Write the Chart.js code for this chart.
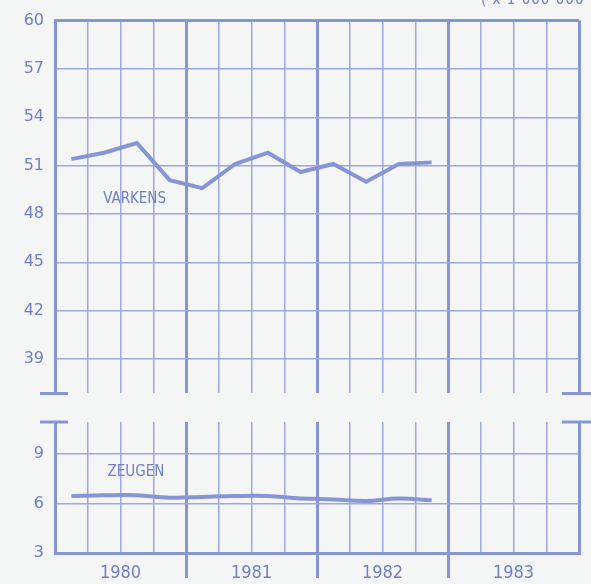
<!DOCTYPE html>
<html>
<head>
<meta charset="utf-8">
<script src="https://cdn.jsdelivr.net/npm/chart.js@4/dist/chart.umd.min.js"></script>
<style>
  body { margin: 0; background: #f4f5f5; }
  #wrap { position: relative; width: 591px; height: 584px; overflow: hidden; }
  #top { position: absolute; left: 0; top: 0; }
  #bottom { position: absolute; left: 0; top: 400px; }
  #unit { position: absolute; left: 481px; top: -10px; white-space: nowrap; font: 15px "DejaVu Sans Condensed"; color: #7282c6; letter-spacing: 1px; }
</style>
</head>
<body>
<div id="wrap">
  <canvas id="top" width="591" height="414"></canvas>
  <canvas id="bottom" width="591" height="184"></canvas>
  <div id="unit">( x 1 000 000 )</div>
</div>
<script>
// quarters 1980 Q1 .. 1982 Q4
const YEARS = ['1980', '1981', '1982', '1983'];
const VARKENS = [51.4, 51.8, 52.4, 50.1, 49.6, 51.1, 51.8, 50.6, 51.1, 50.0, 51.1, 51.2];
const ZEUGEN = [6.45, 6.5, 6.5, 6.35, 6.4, 6.45, 6.45, 6.3, 6.25, 6.15, 6.3, 6.2];
const TOP_TICKS = [39, 42, 45, 48, 51, 54, 57, 60];
const BOTTOM_TICKS = [3, 6, 9];

const LINE = '#8795d6';
const GRID = '#9ca8de';
const TEXT = '#6f7fc4';

Chart.defaults.animation = false;
Chart.defaults.responsive = false;
Chart.defaults.font.family = 'DejaVu Sans';

function points(values) {
    return values.map((v, i) => ({ x: i + 0.5, y: v }));
}

function gridWidth(ctx) {
    const v = ctx.tick.value;
    return v % 4 === 0 ? 3 : 1.5;
}

// little break marks and series names
const extras = {
    id: 'extras',
    afterDraw(chart, args, opts) {
        const c = chart.ctx, a = chart.chartArea;
        const y = opts.capAtBottom ? a.bottom : a.top;
        c.save();
        c.strokeStyle = LINE;
        c.lineWidth = 3;
        c.beginPath();
        c.moveTo(a.left - 15, y); c.lineTo(a.left + 13, y);
        c.moveTo(a.right - 17, y); c.lineTo(a.right + 13, y);
        c.stroke();
        const xs = chart.scales.x, ys = chart.scales.y;
        c.fillStyle = TEXT;
        c.font = '15px "DejaVu Sans Condensed"';
        c.textAlign = 'center';
        c.textBaseline = 'middle';
        c.fillText(opts.label, xs.getPixelForValue(opts.at[0]), ys.getPixelForValue(opts.at[1]));
        c.restore();
    }
};

function xScale(bottom) {
    return {
        type: 'linear', min: 0, max: 16,
        afterBuildTicks: s => { s.ticks = Array.from({ length: 17 }, (_, i) => ({ value: i })); },
        afterFit: s => { s.height = bottom ? 31 : 7; },
        border: { display: bottom, color: LINE, width: 3 },
        grid: {
            color: ctx => (ctx.tick.value % 4 === 0 ? LINE : GRID),
            lineWidth: gridWidth,
            drawTicks: bottom,
            tickLength: 25,
            tickWidth: 3,
            tickColor: ctx => ([4, 8, 12].includes(ctx.tick.value) ? LINE : 'rgba(0,0,0,0)')
        },
        ticks: {
            display: bottom,
            autoSkip: false, maxRotation: 0,
            padding: -15,
            color: TEXT,
            font: { size: 18, family: 'DejaVu Sans Condensed' },
            callback: v => (v % 4 === 2 ? YEARS[(v - 2) / 4] : '')
        }
    };
}

function yScale(min, max, ticks) {
    return {
        min: min, max: max,
        afterBuildTicks: s => { s.ticks = ticks.map(v => ({ value: v })); },
        afterFit: s => { s.width = 55; },
        border: { color: LINE, width: 3 },
        grid: {
            color: ctx => (ctx.tick.value === 60 ? LINE : GRID),
            lineWidth: ctx => (ctx.tick.value === 60 ? 3 : 1.5),
            drawTicks: false
        },
        ticks: { color: TEXT, padding: 11, font: { size: 16 } }
    };
}

new Chart(document.getElementById('top'), {
    type: 'line',
    data: { datasets: [{ label: 'VARKENS', data: points(VARKENS), borderColor: LINE, borderWidth: 4, pointRadius: 0, tension: 0 }] },
    options: {
        layout: { padding: { top: 15, right: 12, left: 0, bottom: 0 } },
        plugins: { legend: { display: false }, tooltip: { enabled: false },
            extras: { capAtBottom: true, label: 'VARKENS', at: [2.43, 48.9] } },
        scales: { x: xScale(false), y: yScale(36.86, 60, TOP_TICKS) }
    },
    plugins: [extras]
});

new Chart(document.getElementById('bottom'), {
    type: 'line',
    data: { datasets: [{ label: 'ZEUGEN', data: points(ZEUGEN), borderColor: LINE, borderWidth: 4, pointRadius: 0, tension: 0.4 }] },
    options: {
        layout: { padding: { top: 22, right: 12, left: 0, bottom: 0 } },
        plugins: { legend: { display: false }, tooltip: { enabled: false },
            extras: { capAtBottom: false, label: 'ZEUGEN', at: [2.47, 7.9] } },
        scales: { x: xScale(true), y: yScale(3, 10.94, BOTTOM_TICKS) }
    },
    plugins: [extras]
});
</script>
</body>
</html>
